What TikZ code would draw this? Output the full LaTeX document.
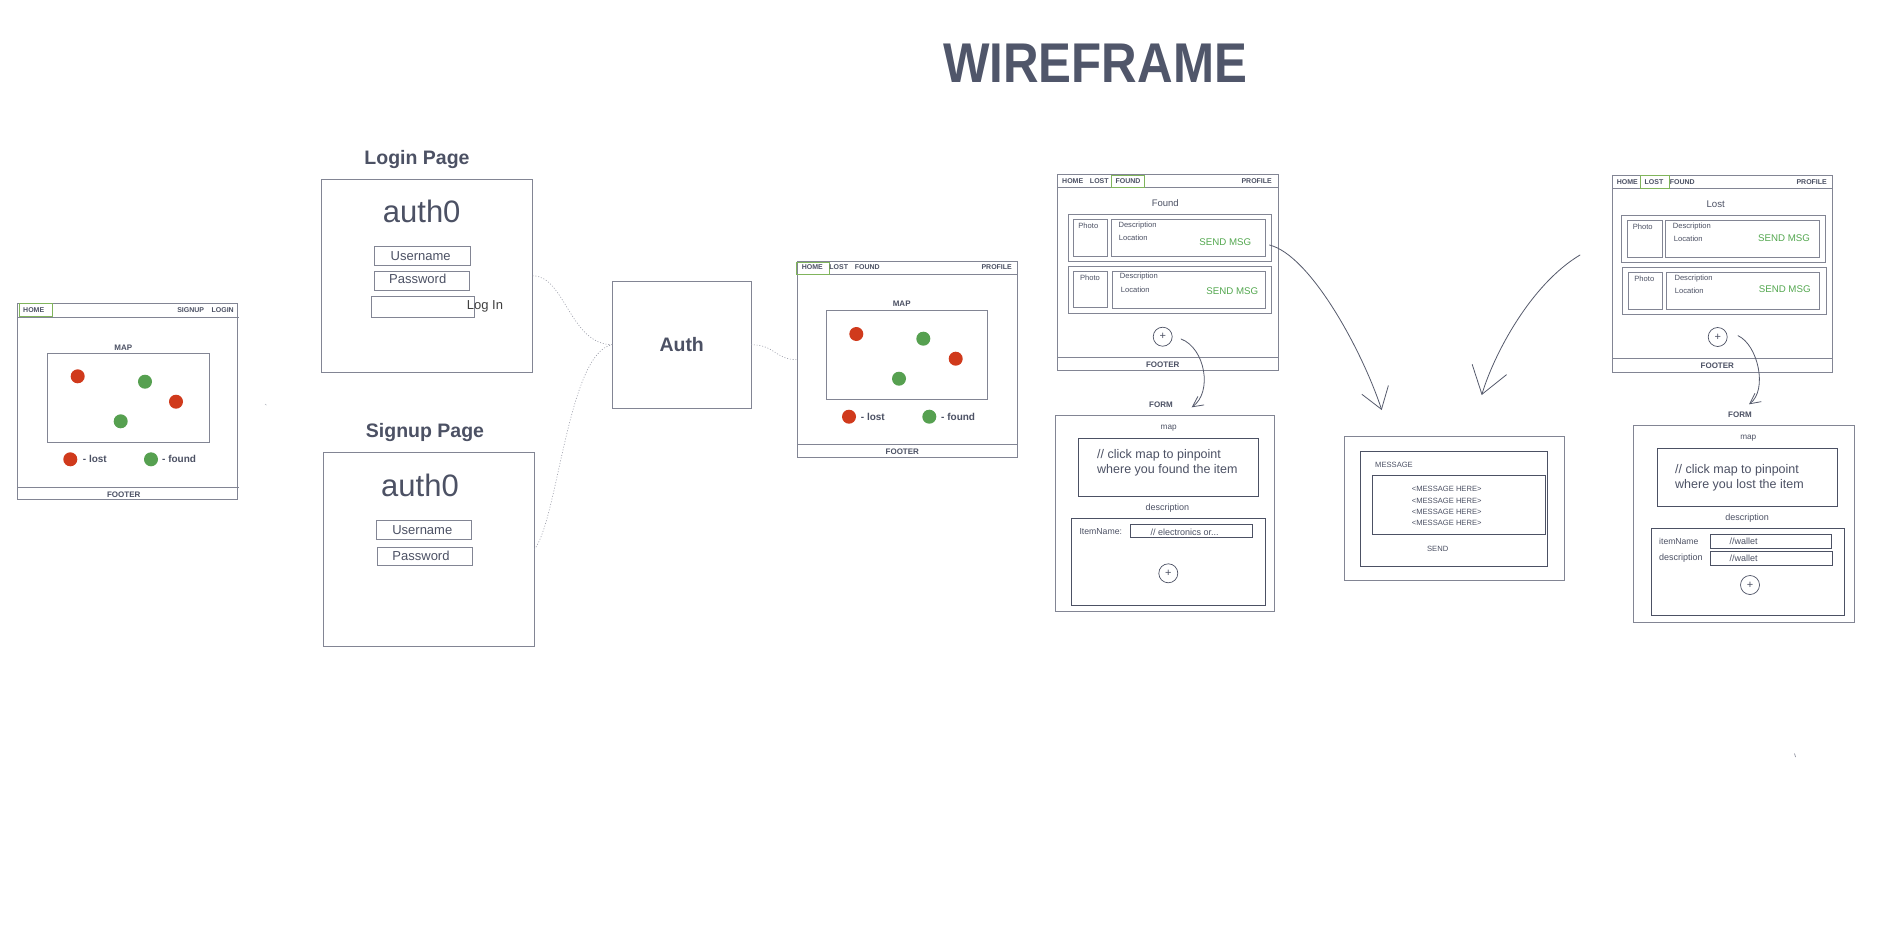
\documentclass[tikz,border=0pt]{standalone}
\usepackage{fontspec}
\setmainfont{Liberation Sans}
\usetikzlibrary{arrows.meta}
\definecolor{mslate}{RGB}{76, 81, 100}
\definecolor{mtitle}{RGB}{80, 86, 106}
\definecolor{mgray}{RGB}{130, 133, 148}
\definecolor{mlight}{RGB}{185, 187, 196}
\definecolor{mlime}{RGB}{128, 180, 92}
\definecolor{msend}{RGB}{84, 168, 80}
\definecolor{mred}{RGB}{208, 58, 28}
\definecolor{mgreen}{RGB}{86, 160, 80}
\definecolor{mpen}{RGB}{85, 90, 108}
\tikzset{pagebox/.style = {draw = mgray, line width = 0.8pt, inner sep = 0, outer sep = 0}}
\tikzset{wbox/.style = {draw = mgray, line width = 0.8pt}}
\tikzset{dbox/.style = {draw = mslate, line width = 1pt}}
\tikzset{wline/.style = {draw = mgray, line width = 0.8pt}}
\tikzset{navmark/.style = {draw = mlime, line width = 1pt}}
\tikzset{txt/.style = {inner sep = 0, text = mslate}}
\tikzset{nav/.style = {txt, font = \fontsize{7}{8}\selectfont\bfseries}}
\tikzset{lbl/.style = {txt, font = \fontsize{8}{9}\selectfont\bfseries}}
\tikzset{small/.style = {txt, font = \fontsize{7.6}{9}\selectfont}}
\tikzset{legend/.style = {txt, anchor = west, font = \fontsize{10}{11}\selectfont\bfseries}}
\tikzset{sendmsg/.style = {txt, text = msend, font = \fontsize{9.7}{11}\selectfont}}
\tikzset{pin/.style = {fill, circle, inner sep = 0, minimum size = 14}}
\tikzset{plus/.style = {circle, draw = mslate, line width = 0.7pt, inner sep = 0, minimum size = 19, text = mslate, font = \fontsize{11}{11}\selectfont}}
\tikzset{link/.style = {draw = mgray!80, line width = 0.6pt, dash pattern = on 1pt off 1.8pt}}
\tikzset{sketch/.style = {draw = mpen, line width = 0.8pt, line cap = round, line join = round}}

\begin{document}
\begin{tikzpicture}[x = 1pt, y = -1pt]
  \useasboundingbox (0, 0) rectangle (1901, 943);
  \fill [white] (0, 0) rectangle (1901, 943);

  \node [txt, text = mtitle, font = \fontsize{56}{56}\selectfont\bfseries] (title) at (1095, 63) {\scalebox{0.88}[1]{WIREFRAME}};

  % home page
  \node [pagebox, minimum width = 220.4, minimum height = 195.7] (home) at (127.5, 401.2) {};
  \draw [wline] (17.3, 317) -- (239, 317);
  \draw [navmark] (19.3, 303.7) rectangle (52.7, 316.3);
  \node [nav] (homeA) at (33.7, 310.3) {HOME};
  \node [nav] (homeB) at (190.7, 310.3) {SIGNUP};
  \node [nav] (homeC) at (222.7, 310.3) {LOGIN};
  \node [lbl] (homemap) at (123.3, 347.3) {MAP};
  \draw [wbox] (47.7, 353.3) rectangle (209.3, 442);
  \node [pin, mred] (hr1) at (77.7, 376.3) {};
  \node [pin, mred] (hr2) at (176, 401.7) {};
  \node [pin, mgreen] (hg1) at (145, 381.7) {};
  \node [pin, mgreen] (hg2) at (120.7, 421.3) {};
  \node [pin, mred] (hlr) at (70.3, 459.3) {};
  \node [legend] (hlost) at (82.7, 459.3) {- lost};
  \node [pin, mgreen] (hlg) at (151, 459.3) {};
  \node [legend] (hfound) at (162, 459.3) {- found};
  \draw [wline] (17.3, 487) -- (239, 487);
  \node [lbl] (homefoot) at (123.7, 494.7) {FOOTER};
  \draw [mlight, line width = 0.6pt] (265, 404) -- (266.5, 405.2);

  % login and signup
  \node [txt, font = \fontsize{19.5}{20}\selectfont\bfseries] (logintitle) at (417, 159) {Login Page};
  \node [pagebox, minimum width = 211, minimum height = 193] (login) at (427.2, 275.8) {};
  \node [txt, font = \fontsize{31}{31}\selectfont] (loginauth) at (421.7, 211.7) {auth0};
  \draw [wbox] (374.3, 246.7) rectangle (470, 265.3);
  \node [txt, font = \fontsize{13}{14}\selectfont] (loginuser) at (420.7, 256.3) {Username};
  \draw [wbox] (374.3, 271.3) rectangle (469.3, 290.3);
  \node [txt, font = \fontsize{13}{14}\selectfont] (loginpass) at (417.7, 279.3) {Password};
  \draw [wbox] (371.3, 296.3) rectangle (474.3, 317.3);
  \node [txt, anchor = west, text = black!75, font = \fontsize{13}{14}\selectfont] (loginbtn) at (466.7, 306) {Log In};

  \node [txt, font = \fontsize{19.5}{20}\selectfont\bfseries] (signuptitle) at (425, 432.7) {Signup Page};
  \node [pagebox, minimum width = 211, minimum height = 193.3] (signup) at (428.8, 549.4) {};
  \node [txt, font = \fontsize{31}{31}\selectfont] (signupauth) at (420, 485.7) {auth0};
  \draw [wbox] (376.3, 520.3) rectangle (471.7, 539);
  \node [txt, font = \fontsize{13}{14}\selectfont] (signupuser) at (422.3, 530) {Username};
  \draw [wbox] (377.3, 547) rectangle (472.3, 565);
  \node [txt, font = \fontsize{13}{14}\selectfont] (signuppass) at (421, 556) {Password};

  % auth
  \node [pagebox, minimum width = 138.7, minimum height = 126.7, text = mslate, font = \fontsize{19.5}{20}\selectfont\bfseries] (auth) at (681.7, 344.7) {Auth};
  \draw [link] (login.east) .. controls (565, 275.8) and (570, 344.7) .. (auth.west);
  \draw [link] (signup.east) .. controls (558, 520) and (568, 352) .. (auth.west);

  % home page after login
  \node [pagebox, minimum width = 220, minimum height = 196] (home2) at (907.3, 359.7) {};
  \draw [link] (auth.east) .. controls (775, 344.7) and (775, 359.7) .. (home2.west);
  \draw [wline] (797.3, 274) -- (1017.3, 274);
  \draw [navmark] (796, 262) rectangle (829, 274);
  \node [nav] (home2A) at (812.3, 267.3) {HOME};
  \node [nav] (home2B) at (838.7, 267.3) {LOST};
  \node [nav] (home2C) at (867.3, 267.3) {FOUND};
  \node [nav] (home2D) at (996.7, 267.3) {PROFILE};
  \node [lbl] (home2map) at (901.7, 304) {MAP};
  \draw [wbox] (826.3, 310.7) rectangle (987.3, 399.7);
  \node [pin, mred] (h2r1) at (856.3, 334) {};
  \node [pin, mred] (h2r2) at (955.7, 358.7) {};
  \node [pin, mgreen] (h2g1) at (923.3, 338.7) {};
  \node [pin, mgreen] (h2g2) at (899, 378.7) {};
  \node [pin, mred] (h2lr) at (849, 416.7) {};
  \node [legend] (h2lost) at (860.7, 416.7) {- lost};
  \node [pin, mgreen] (h2lg) at (929.3, 416.7) {};
  \node [legend] (h2found) at (941, 416.7) {- found};
  \draw [wline] (797.3, 444.3) -- (1017.3, 444.3);
  \node [lbl] (home2foot) at (902.3, 451.7) {FOOTER};

  % found page
  \node [pagebox, minimum width = 221, minimum height = 196.4] (found) at (1167.8, 272.5) {};
  \draw [wline] (1057.3, 187.3) -- (1278.3, 187.3);
  \draw [navmark] (1111.7, 175) rectangle (1144.3, 187);
  \node [nav] (foundA) at (1072.7, 180.7) {HOME};
  \node [nav] (foundB) at (1099.3, 180.7) {LOST};
  \node [nav] (foundC) at (1128, 180.7) {FOUND};
  \node [nav] (foundD) at (1256.7, 180.7) {PROFILE};
  \node [txt, font = \fontsize{9.5}{11}\selectfont] (foundhead) at (1165.3, 202.7) {Found};
  \draw [wbox] (1068.3, 214.3) rectangle (1271.7, 261.3);
  \draw [wbox] (1073.3, 219) rectangle (1107.3, 256);
  \node [wbox, inner sep = 0, minimum width = 153.7, minimum height = 37] (fdesc1) at (1188.2, 237.5) {};
  \node [small] (fphoto1) at (1088.3, 226) {Photo};
  \node [small, anchor = west] (fdtext1) at (1118.3, 225.3) {Description};
  \node [small, anchor = west] (fltext1) at (1118.7, 237.3) {Location};
  \node [sendmsg] (fsend1) at (1225.3, 241.7) {SEND MSG};
  \draw [wbox] (1068.3, 266.3) rectangle (1271.7, 313);
  \draw [wbox] (1073.3, 271.3) rectangle (1107.7, 307.3);
  \draw [wbox] (1112, 271.3) rectangle (1265.7, 308.3);
  \node [small] (fphoto2) at (1090, 277.3) {Photo};
  \node [small, anchor = west] (fdtext2) at (1119.7, 277) {Description};
  \node [small, anchor = west] (fltext2) at (1120.7, 289.3) {Location};
  \node [sendmsg] (fsend2) at (1232.3, 291) {SEND MSG};
  \node [plus] (fplus) at (1162.7, 336.7) {+};
  \draw [wline] (1057.3, 357.3) -- (1278.3, 357.3);
  \node [lbl] (foundfoot) at (1162.7, 365) {FOOTER};

  % found form
  \coordinate (ftip) at (1191.7, 407.3);
  \draw [sketch, -{Straight Barb[length = 10.5pt, width = 10.5pt]}] ([shift = {(8.5, 2.3)}]fplus.east) .. controls (1205, 348) and (1213, 392) .. (ftip);
  \node [lbl] (fform) at (1161, 405) {FORM};
  \draw [wbox] (1055, 415) rectangle (1274.3, 611.7);
  \node [txt, font = \fontsize{8.2}{9}\selectfont] (fmap) at (1168.7, 428) {map};
  \draw [dbox] (1078.3, 438.3) rectangle (1258, 496.7);
  \node [txt, anchor = west, align = left, font = \fontsize{12.5}{15.3}\selectfont] (fhint) at (1097, 462.7) {// click map to pinpoint\\where you found the item};
  \node [txt, font = \fontsize{9}{10}\selectfont] (fdesc) at (1167.3, 508) {description};
  \draw [dbox] (1071.7, 518.3) rectangle (1265, 605);
  \node [txt, anchor = west, font = \fontsize{8.7}{10}\selectfont] (fitem) at (1079.3, 531.3) {ItemName:};
  \draw [dbox] (1130.3, 524) rectangle (1252.7, 537.7);
  \node [txt, font = \fontsize{9}{10}\selectfont] (fitemval) at (1184.7, 532) {// electronics or...};
  \node [plus] (fformplus) at (1168.3, 573.3) {+};

  % message
  \node [pagebox, minimum width = 220, minimum height = 143.3] (msg) at (1454.3, 508.4) {};
  \draw [dbox] (1360, 451.7) rectangle (1547.7, 566.7);
  \node [small, anchor = west] (msghead) at (1375, 465) {MESSAGE};
  \draw [dbox] (1372.3, 475) rectangle (1545, 534);
  \node [txt, align = center, font = \fontsize{7.6}{11.1}\selectfont] (msgtext) at (1446.7, 506) {<MESSAGE HERE>\\<MESSAGE HERE>\\<MESSAGE HERE>\\<MESSAGE HERE>};
  \node [small] (msgsend) at (1437.7, 549.3) {SEND};
  \coordinate (mtipA) at (1381.7, 410);
  \coordinate (mtipB) at (1481.7, 395);
  \coordinate (mfromB) at (1580, 255);
  \draw [sketch, -{Straight Barb[length = 20.5pt, width = 28pt]}] ([shift = {(4, 7.5)}]fdesc1.east) .. controls (1310, 255) and (1362, 350) .. (mtipA);
  \draw [sketch, -{Straight Barb[length = 26pt, width = 36pt]}] (mfromB) .. controls (1530, 285) and (1493.7, 355) .. (mtipB);

  % lost page
  \node [pagebox, minimum width = 220, minimum height = 197.3] (lost) at (1722.3, 273.7) {};
  \draw [wline] (1612.3, 188.3) -- (1832.3, 188.3);
  \draw [navmark] (1640.3, 175) rectangle (1669, 188);
  \node [nav] (lostA) at (1627.3, 181.7) {HOME};
  \node [nav] (lostB) at (1654, 181.7) {LOST};
  \node [nav] (lostC) at (1682.3, 181.7) {FOUND};
  \node [nav] (lostD) at (1811.7, 181.7) {PROFILE};
  \node [txt, font = \fontsize{9.7}{11}\selectfont] (losthead) at (1715.7, 204) {Lost};
  \draw [wbox] (1621.7, 215.3) rectangle (1825.7, 262.7);
  \draw [wbox] (1627.3, 220.3) rectangle (1662, 257.3);
  \draw [wbox] (1665.3, 220.3) rectangle (1819.7, 257.3);
  \node [small] (lphoto1) at (1642.7, 227) {Photo};
  \node [small, anchor = west] (ldtext1) at (1672.7, 226.7) {Description};
  \node [small, anchor = west] (lltext1) at (1673.7, 238.3) {Location};
  \node [sendmsg] (lsend1) at (1784, 237.7) {SEND MSG};
  \draw [wbox] (1622.3, 267.3) rectangle (1826.3, 314.3);
  \draw [wbox] (1628.3, 272.3) rectangle (1662.7, 309);
  \draw [wbox] (1666, 272.3) rectangle (1819.7, 309.3);
  \node [small] (lphoto2) at (1644.3, 278.7) {Photo};
  \node [small, anchor = west] (ldtext2) at (1674.3, 278.3) {Description};
  \node [small, anchor = west] (lltext2) at (1674.7, 290.3) {Location};
  \node [sendmsg] (lsend2) at (1784.7, 288.7) {SEND MSG};
  \node [plus] (lplus) at (1717.7, 337) {+};
  \draw [wline] (1612.3, 358.3) -- (1832.3, 358.3);
  \node [lbl] (lostfoot) at (1717.3, 366) {FOOTER};

  % lost form
  \coordinate (ltip) at (1749, 404.3);
  \draw [sketch, -{Straight Barb[length = 10.5pt, width = 10.5pt]}] ([shift = {(10.5, -1.3)}]lplus.east) .. controls (1758, 345) and (1768, 390) .. (ltip);
  \node [lbl] (lform) at (1740, 415) {FORM};
  \draw [wbox] (1633.7, 425.3) rectangle (1854.3, 622);
  \node [txt, font = \fontsize{8.2}{9}\selectfont] (lmap) at (1748.3, 438.3) {map};
  \draw [dbox] (1657.7, 448.3) rectangle (1837.3, 506.7);
  \node [txt, anchor = west, align = left, font = \fontsize{12.5}{15.3}\selectfont] (lhint) at (1675, 478) {// click map to pinpoint\\where you lost the item};
  \node [txt, font = \fontsize{9}{10}\selectfont] (ldesc) at (1747, 518.3) {description};
  \draw [dbox] (1651, 528.3) rectangle (1844.3, 615);
  \node [txt, anchor = west, font = \fontsize{8.6}{10}\selectfont] (litem) at (1659, 541.3) {itemName};
  \draw [dbox] (1710, 534.3) rectangle (1831.7, 548.3);
  \node [txt, anchor = west, font = \fontsize{9}{10}\selectfont] (litemval) at (1729.3, 541.3) {//wallet};
  \node [txt, anchor = west, font = \fontsize{9}{10}\selectfont] (ldescr) at (1659, 558.3) {description};
  \draw [dbox] (1710.3, 551.7) rectangle (1832.3, 565.3);
  \node [txt, anchor = west, font = \fontsize{9}{10}\selectfont] (ldescval) at (1729.3, 558.5) {//wallet};
  \node [plus] (lformplus) at (1750, 585) {+};
  \draw [mgray, line width = 0.6pt] (1794.5, 753.5) -- (1795.5, 757);
\end{tikzpicture}
\end{document}
